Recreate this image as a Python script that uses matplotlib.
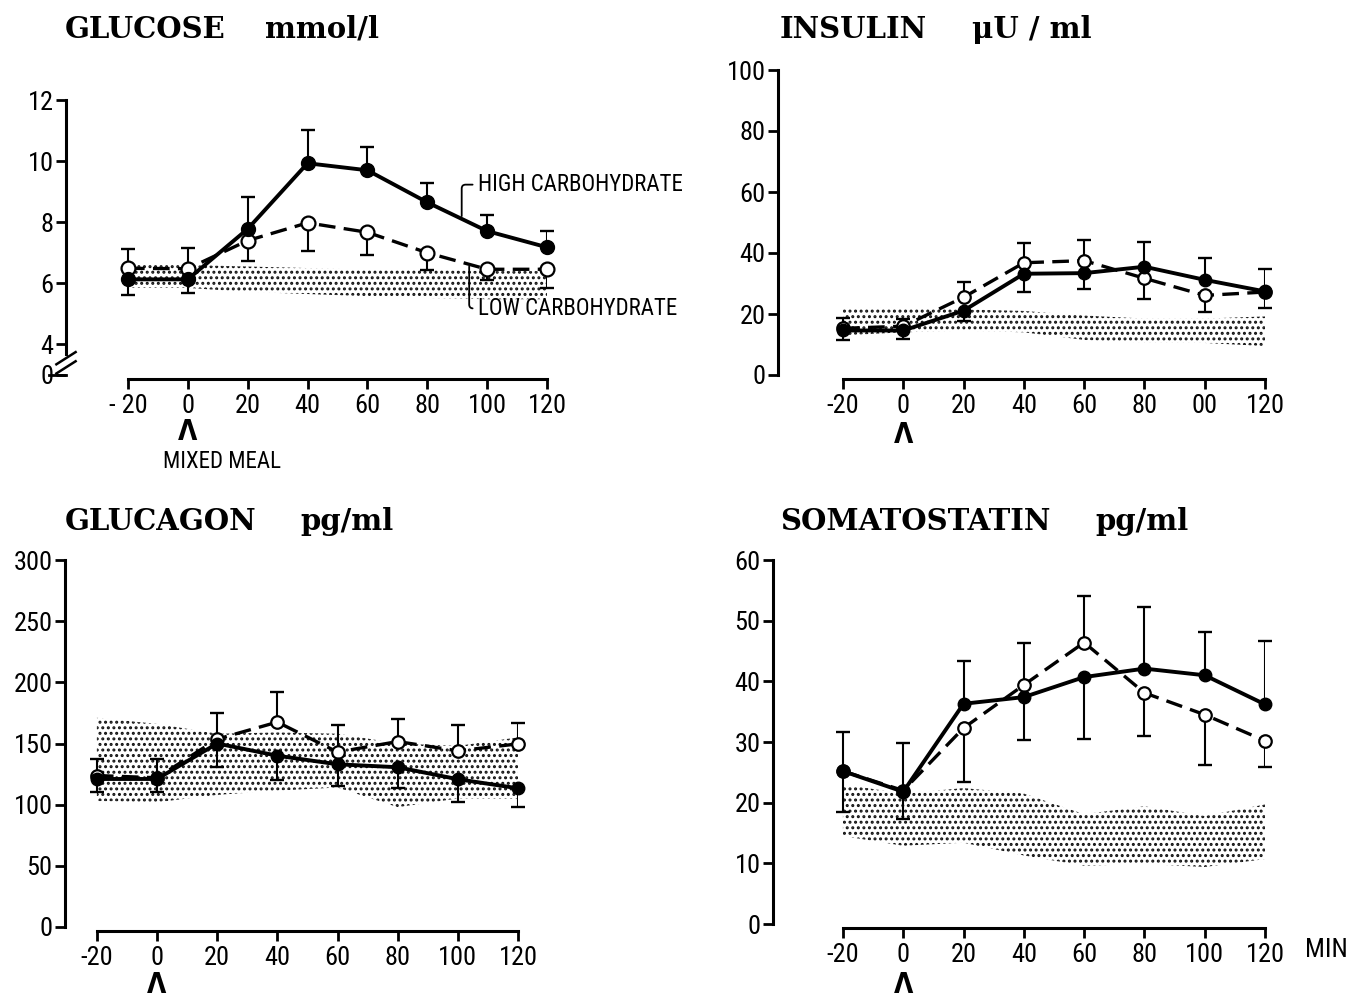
import matplotlib.pyplot as plt
import numpy as np

W, H = 1354, 998
plt.rcParams["font.family"] = ["Roboto Condensed", "DejaVu Sans"]
plt.rcParams["font.stretch"] = "condensed"
plt.rcParams["hatch.linewidth"] = 1.4

TIME = [-20, 0, 20, 40, 60, 80, 100, 120]

# glucose, mmol/l  (bar = end of the one-sided SEM bar)
GLU_HIGH = [6.13, 6.13, 7.78, 9.93, 9.70, 8.65, 7.71, 7.18]
GLU_HIGH_BAR = [5.62, 5.70, 8.84, 11.01, 10.46, 9.28, 8.25, 7.71]
GLU_LOW = [6.49, 6.48, 7.40, 7.98, 7.67, 7.00, 6.46, 6.46]
GLU_LOW_BAR = [7.14, 7.15, 6.74, 7.05, 6.92, 6.43, 6.10, 5.85]
GLU_BAND_HI = [6.65, 6.60, 6.55, 6.50, 6.45, 6.45, 6.40, 6.40]
GLU_BAND_LO = [5.85, 5.85, 5.72, 5.65, 5.58, 5.52, 5.48, 5.48]

# insulin, uU/ml
INS_HIGH = [14.6, 14.6, 21.1, 33.2, 33.4, 35.5, 31.2, 27.4]
INS_HIGH_BAR = [11.5, 11.7, 17.7, 27.1, 28.2, 43.7, 38.2, 34.7]
INS_LOW = [15.3, 16.0, 25.5, 36.8, 37.5, 31.7, 26.1, 27.2]
INS_LOW_BAR = [18.7, 18.2, 30.4, 43.4, 44.4, 24.9, 20.7, 22.0]
INS_BAND_HI = [22.0, 22.0, 21.5, 21.0, 19.5, 18.5, 18.5, 19.2]
INS_BAND_LO = [13.0, 14.0, 14.5, 14.0, 11.5, 10.5, 10.5, 9.5]

# glucagon, pg/ml
GCG_HIGH = [121, 121, 150, 140, 133, 130.6, 120.8, 113.4]
GCG_HIGH_BAR = [110, 110, 131, 120, 115, 114, 102, 98]
GCG_LOW = [123.8, 122, 153.6, 167.5, 143, 151.6, 144, 149.7]
GCG_LOW_BAR = [137.4, 137, 175, 192, 165, 170, 165, 167]
GCG_BAND_HI = [171, 166, 158, 159, 158, 150, 148, 155]
GCG_BAND_LO = [103, 102, 108, 111.5, 114, 98, 105, 104.6]

# somatostatin, pg/ml
SST_HIGH = [25.2, 21.8, 36.3, 37.4, 40.7, 42.1, 41.0, 36.2]
SST_HIGH_BAR = [18.5, 17.3, 43.3, 30.3, 30.5, 52.3, 48.2, 46.7]
SST_LOW = [25.2, 22.0, 32.3, 39.4, 46.4, 38.1, 34.5, 30.2]
SST_LOW_BAR = [31.6, 29.8, 23.4, 46.4, 54.0, 31.0, 26.2, 25.8]
SST_BAND_HI = [23.0, 21.5, 22.4, 21.5, 18.1, 19.4, 17.8, 19.7]
SST_BAND_LO = [14.5, 12.9, 13.4, 11.3, 9.6, 9.9, 9.4, 10.7]

XLABELS = ["-20", "0", "20", "40", "60", "80", "100", "120"]

fig = plt.figure(figsize=(W / 100, H / 100), dpi=100)


def add_axes(left, right, bottom, top):
    return fig.add_axes([left / W, 1 - bottom / H, (right - left) / W, (bottom - top) / H])


def panel(ax, xmin, ylim, yticks, ylabels, xlabels, high, high_bar, low, low_bar,
          band_lo, band_hi, ms=9):
    ax.set_xlim(xmin, 120)
    ax.set_ylim(*ylim)
    ax.fill_between(TIME, band_lo, band_hi, facecolor="white", edgecolor="#111111",
                    hatch="...", linewidth=0, zorder=1)
    for y, bar in ((high, high_bar), (low, low_bar)):
        ax.vlines(TIME, y, bar, color="black", lw=1.5, zorder=2)
        ax.plot(TIME, bar, ls="none", marker="_", ms=10, mew=1.7, color="black",
                zorder=2, clip_on=False)
    ax.plot(TIME, low, color="black", lw=2.4, ls=(0, (5, 2.5)), marker="o", ms=ms,
            mfc="white", mec="black", mew=1.6, zorder=4, clip_on=False)
    ax.plot(TIME, high, color="black", lw=2.8, marker="o", ms=ms, mfc="black",
            mec="black", zorder=5, clip_on=False)
    for s in ("top", "right"):
        ax.spines[s].set_visible(False)
    ax.spines["left"].set_linewidth(2.2)
    ax.spines["bottom"].set_linewidth(2.2)
    ax.spines["left"].set_bounds(ylim[0], ylim[1])
    ax.spines["bottom"].set_bounds(-20, 120)
    ax.spines["bottom"].set_position(("outward", 3))
    ax.set_yticks(yticks)
    ax.set_yticklabels(ylabels)
    ax.set_xticks(TIME)
    ax.set_xticklabels(xlabels)
    ax.tick_params(axis="both", labelsize=19, width=2, length=7, direction="out")
    ax.tick_params(axis="y", pad=2)
    ax.set_facecolor("none")


def caret(ax, dy=-57):
    ax.annotate("Λ", xy=(0, 0), xycoords=("data", "axes fraction"),
                xytext=(0, dy), textcoords="offset pixels", ha="center", va="center",
                fontsize=20, fontweight="bold", family=["DejaVu Sans"])


title_kw = dict(fontsize=21, fontweight="bold", fontstretch="normal",
                family=["DejaVu Serif", "DejaVu Sans"], va="baseline")
for x_name, x_unit, y, name, unit in (
        (65, 265, 38, "GLUCOSE", "mmol/l"),
        (780, 972, 38, "INSULIN", "μU / ml"),
        (65, 300, 530, "GLUCAGON", "pg/ml"),
        (780, 1095, 530, "SOMATOSTATIN", "pg/ml")):
    fig.text(x_name / W, 1 - y / H, name, **title_kw)
    fig.text(x_unit / W, 1 - y / H, unit, **title_kw)

# glucose (broken axis: 0 shown at 3)
ax1 = add_axes(66, 547, 375, 100)
panel(ax1, -40.7, (3, 12), [3, 4, 6, 8, 10, 12], ["0", "4", "6", "8", "10", "12"],
      ["- 20"] + XLABELS[1:], GLU_HIGH, GLU_HIGH_BAR, GLU_LOW, GLU_LOW_BAR,
      GLU_BAND_LO, GLU_BAND_HI, ms=10)
ax1.spines["left"].set_bounds(3.7, 12)
ax1.plot([-0.035, 0.0], [3.0, 3.0], transform=ax1.get_yaxis_transform(),
         color="black", lw=2, clip_on=False)
for y0 in (3.25, 3.55):
    ax1.plot([-0.02, 0.02], [y0 - 0.2, y0 + 0.2], transform=ax1.get_yaxis_transform(),
             color="black", lw=1.8, clip_on=False)
caret(ax1)
ax1.annotate("MIXED MEAL", xy=(0, 0), xycoords=("data", "axes fraction"),
             xytext=(-25, -87), textcoords="offset pixels", ha="left", va="center",
             fontsize=16.5)
ax1.annotate("HIGH CARBOHYDRATE", xy=(91.5, 8.2), xytext=(97, 9.23),
             ha="left", va="center", fontsize=16.5,
             arrowprops=dict(arrowstyle="-", lw=1.3, shrinkA=2, shrinkB=0,
                             connectionstyle="angle,angleA=0,angleB=90,rad=4"))
ax1.annotate("LOW CARBOHYDRATE", xy=(94, 6.55), xytext=(97, 5.18),
             ha="left", va="center", fontsize=16.5,
             arrowprops=dict(arrowstyle="-", lw=1.3, shrinkA=2, shrinkB=0,
                             connectionstyle="angle,angleA=0,angleB=90,rad=4"))

# insulin
ax2 = add_axes(778, 1265, 375, 70)
panel(ax2, -41.6, (0, 100), range(0, 101, 20), [str(v) for v in range(0, 101, 20)],
      XLABELS[:6] + ["00", "120"], INS_HIGH, INS_HIGH_BAR, INS_LOW, INS_LOW_BAR,
      INS_BAND_LO, INS_BAND_HI)
caret(ax2, -60)

# glucagon
ax3 = add_axes(65, 518, 927, 560)
panel(ax3, -30.6, (0, 300), range(0, 301, 50), [str(v) for v in range(0, 301, 50)],
      XLABELS, GCG_HIGH, GCG_HIGH_BAR, GCG_LOW, GCG_LOW_BAR, GCG_BAND_LO, GCG_BAND_HI)
caret(ax3, -58)

# somatostatin
ax4 = add_axes(773, 1265, 924, 560)
panel(ax4, -43.2, (0, 60), range(0, 61, 10), [str(v) for v in range(0, 61, 10)],
      XLABELS, SST_HIGH, SST_HIGH_BAR, SST_LOW, SST_LOW_BAR, SST_BAND_LO, SST_BAND_HI)
caret(ax4, -61)
ax4.annotate("MIN", xy=(120, 0), xycoords=("data", "axes fraction"),
             xytext=(40, -26), textcoords="offset pixels", ha="left", va="center",
             fontsize=19)

fig.savefig("out.png", dpi=100)
